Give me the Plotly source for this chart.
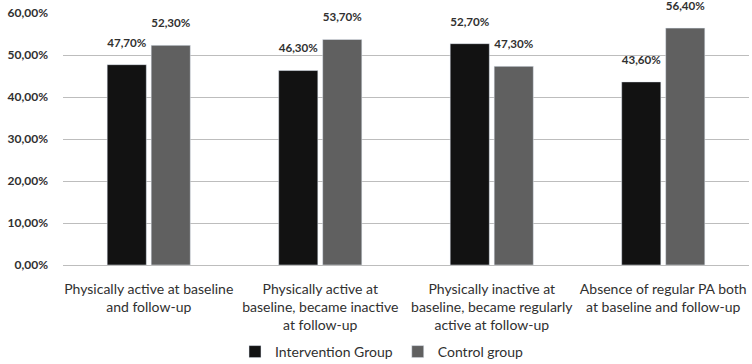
import plotly.graph_objects as go

categories = [
    "Physically active at baseline<br>and follow-up",
    "Physically active at<br>baseline, became inactive<br>at follow-up",
    "Physically inactive at<br>baseline, became regularly<br>active at follow-up",
    "Absence of regular PA both<br>at baseline and follow-up",
]
intervention = [47.7, 46.3, 52.7, 43.6]
control = [52.3, 53.7, 47.3, 56.4]
tick_vals = [0, 10, 20, 30, 40, 50, 60]
tick_text = ["0,00%", "10,00%", "20,00%", "30,00%", "40,00%", "50,00%", "60,00%"]

font_family = "Lato, Open Sans, sans-serif"

fig = go.Figure()
for name, vals, color in [("Intervention Group", intervention, "#121212"),
                          ("Control group", control, "#606060")]:
    fig.add_trace(go.Bar(
        x=categories, y=vals, name=name,
        marker=dict(color=color),
        texttemplate="%{y:.2f}%<br><span style='font-size:2px'> </span>",
        textposition="outside",
        textfont=dict(family=font_family, size=15, color="#303030", weight="bold"),
        cliponaxis=False,
    ))

fig.update_layout(
    width=752, height=364,
    margin=dict(l=63, r=3, t=13, b=99, autoexpand=False),
    paper_bgcolor="white", plot_bgcolor="white",
    separators=", ",
    barmode="group", bargap=0.487, bargroupgap=0.11,
    font=dict(family=font_family, color="#303030"),
    showlegend=True,
    legend=dict(orientation="h", x=0.465, xanchor="center",
                yref="container", y=0.033, yanchor="middle",
                font=dict(size=14, color="#303030"), traceorder="normal",
                itemwidth=30),
    uniformtext=dict(mode=False),
)
fig.update_yaxes(
    range=[0, 60], tickvals=tick_vals, ticktext=tick_text,
    showgrid=True, gridcolor="#bdbdbd", gridwidth=1,
    zeroline=True, zerolinecolor="#bdbdbd", zerolinewidth=1,
    tickfont=dict(size=12, color="#303030", weight="bold"),
    ticks="", ticklabelstandoff=14, automargin=False,
)
fig.update_xaxes(
    showline=False, ticks="outside", ticklen=11, tickcolor="rgba(0,0,0,0)",
    tickfont=dict(size=14, color="#303030"),
    tickangle=0, automargin=False,
)

fig.write_html(
    "out.html",
    config={"displayModeBar": False},
    post_script="document.body.style.margin='0';document.body.style.padding='0';",
)
